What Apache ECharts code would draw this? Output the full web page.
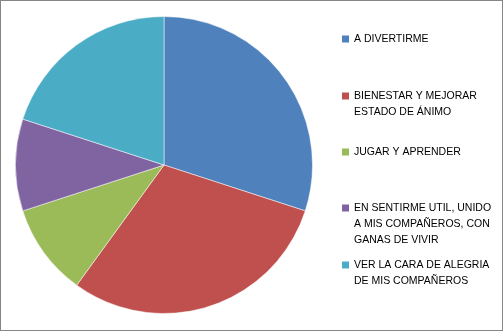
<!DOCTYPE html>
<html>
<head>
<meta charset="utf-8">
<script src="https://cdn.jsdelivr.net/npm/echarts@6/dist/echarts.min.js"></script>
<style>
  html, body { margin: 0; padding: 0; background: #fff; }
  #chart { width: 503px; height: 331px; box-sizing: border-box; border: 1px solid #868686; }
</style>
</head>
<body>
<div id="chart"></div>
<script>
// categorias y valores
const categories = [
  'A DIVERTIRME',
  'BIENESTAR Y MEJORAR\nESTADO DE ÁNIMO',
  'JUGAR Y APRENDER',
  'EN SENTIRME UTIL, UNIDO\nA MIS COMPAÑEROS, CON\nGANAS DE VIVIR',
  'VER LA CARA DE ALEGRIA\nDE MIS COMPAÑEROS'
]
const values = [30, 30, 10, 10, 20]
const colors = ['#4F81BD', '#C0504D', '#9BBB59', '#8064A2', '#4BACC6']

// centro de la primera linea de cada entrada
const legendTops = [38, 95, 151, 207, 264]
const lineH = 16

function buildLegends() {
  let list = []
  for (let i = 0; i < categories.length; i++) {
    const extra = categories[i].split('\n').length - 1
    list.push({
      data: [categories[i]],
      left: 341,
      top: legendTops[i] - lineH / 2 - extra * lineH,
      padding: 0,
      itemWidth: 7,
      itemHeight: 7,
      itemGap: 0,
      icon: 'rect',
      itemStyle: { borderWidth: 0 },
      selectedMode: false,
      // lineas vacias arriba para que el cuadro quede junto a la primera linea
      formatter: function (name) { return '\n'.repeat(extra) + name },
      textStyle: {
        fontFamily: 'Liberation Sans',
        fontSize: 10.5,
        color: '#000',
        lineHeight: lineH
      }
    })
  }
  return list
}

const chart = echarts.init(document.getElementById('chart'), null, { renderer: 'canvas' })
chart.setOption({
  animation: false,
  color: colors,
  legend: buildLegends(),
  series: [{
    type: 'pie',
    center: [163, 164],
    radius: 148.5,
    startAngle: 90,
    clockwise: true,
    label: { show: false },
    labelLine: { show: false },
    emphasis: { disabled: true },
    itemStyle: { borderColor: '#fff', borderWidth: 0.5 },
    data: categories.map((c, i) => ({ name: c, value: values[i] }))
  }]
})
</script>
</body>
</html>
